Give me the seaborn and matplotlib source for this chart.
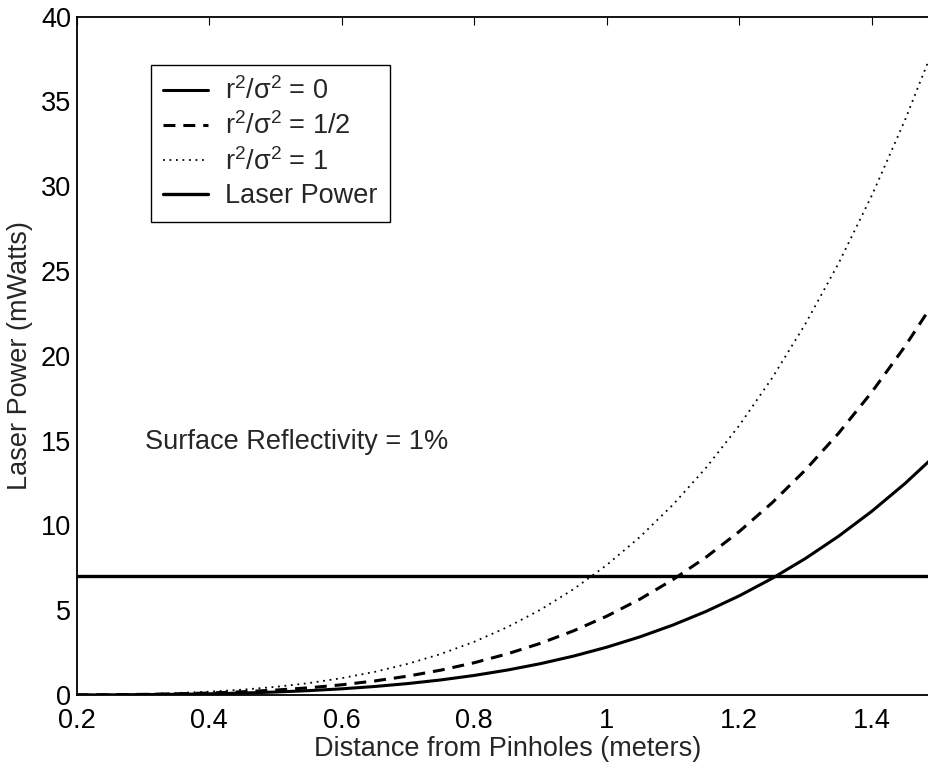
import numpy as np
import pandas as pd
import matplotlib
matplotlib.use("Agg")
import matplotlib.pyplot as plt
import seaborn as sns

# Distance from the pinholes (meters)
distance = [0.20, 0.25, 0.30, 0.35, 0.40, 0.45, 0.50, 0.55, 0.60, 0.65,
            0.70, 0.75, 0.80, 0.85, 0.90, 0.95, 1.00, 1.05, 1.10, 1.15,
            1.20, 1.25, 1.30, 1.35, 1.40, 1.45, 1.50]

# Required laser power (mWatts) for each r^2/sigma^2 setting
power_r0 = [0.0045, 0.011, 0.023, 0.042, 0.072, 0.116, 0.176, 0.258, 0.365, 0.503,
            0.677, 0.892, 1.155, 1.472, 1.850, 2.297, 2.820, 3.428, 4.129, 4.932,
            5.848, 6.885, 8.054, 9.367, 10.833, 12.466, 14.28]
power_r_half = [0.0074, 0.018, 0.038, 0.070, 0.119, 0.191, 0.291, 0.425, 0.603, 0.830,
                1.116, 1.471, 1.904, 2.427, 3.050, 3.787, 4.649, 5.651, 6.807, 8.131,
                9.640, 11.350, 13.278, 15.442, 17.860, 20.551, 23.53]
power_r1 = [0.0123, 0.030, 0.062, 0.115, 0.196, 0.314, 0.479, 0.701, 0.994, 1.368,
            1.841, 2.426, 3.140, 4.002, 5.030, 6.244, 7.666, 9.318, 11.224, 13.408,
            15.896, 18.716, 21.895, 25.462, 29.450, 33.888, 38.81]

# Available laser power (mWatts)
laser_power = 7.0

labels = [r"$\mathregular{r^2/\sigma^2}$ = 0",
          r"$\mathregular{r^2/\sigma^2}$ = 1/2",
          r"$\mathregular{r^2/\sigma^2}$ = 1",
          "Laser Power"]

x_ticks = [0.2, 0.4, 0.6, 0.8, 1.0, 1.2, 1.4]
x_tick_labels = ["0.2", "0.4", "0.6", "0.8", "1", "1.2", "1.4"]
y_ticks = [0, 5, 10, 15, 20, 25, 30, 35, 40]

FS = 19.5

sns.set_theme(style="white")
plt.rcParams["font.family"] = ["Liberation Sans", "DejaVu Sans"]
plt.rcParams["mathtext.fontset"] = "custom"
plt.rcParams["mathtext.rm"] = "Liberation Sans"
plt.rcParams["mathtext.it"] = "Liberation Sans"

fig = plt.figure(figsize=(9.29, 7.63), dpi=100)
ax = fig.add_axes([0.0826, 0.0891, 0.9271, 0.889])

df = pd.DataFrame({
    "distance": distance * 3,
    "power": power_r0 + power_r_half + power_r1,
    "case": [labels[0]] * len(distance) + [labels[1]] * len(distance) + [labels[2]] * len(distance),
})

sns.lineplot(data=df[df["case"] == labels[0]], x="distance", y="power", ax=ax,
             color="black", lw=2.2, linestyle="-", label=labels[0])
sns.lineplot(data=df[df["case"] == labels[1]], x="distance", y="power", ax=ax,
             color="black", lw=2.2, linestyle=(0, (3.9, 2.6)), label=labels[1])
sns.lineplot(data=df[df["case"] == labels[2]], x="distance", y="power", ax=ax,
             color="black", lw=1.3, linestyle=(0, (1.0, 2.6)), label=labels[2])
sns.lineplot(x=[distance[0], distance[-1]], y=[laser_power, laser_power], ax=ax,
             color="black", lw=2.4, linestyle="-", label=labels[3])

ax.set_xlim(0.2, 1.5)
ax.set_ylim(0, 40)
ax.set_xticks(x_ticks)
ax.set_xticklabels(x_tick_labels)
ax.set_yticks(y_ticks)

ax.tick_params(axis="both", which="both", direction="in", length=5.8, width=0.8,
               labelsize=FS, top=True, right=True, colors="black")
ax.tick_params(axis="x", pad=9)
ax.tick_params(axis="y", pad=4)
for s in ax.spines.values():
    s.set_color("black")
    s.set_linewidth(1.3)

ax.set_xlabel("Distance from Pinholes (meters)", fontsize=FS, labelpad=2)
ax.set_ylabel("Laser Power (mWatts)", fontsize=FS, labelpad=6)

ax.text(0.303, 14.9, "Surface Reflectivity = 1%", fontsize=FS,
        ha="left", va="center")

leg = ax.legend(loc="upper left", bbox_to_anchor=(0.0858, 0.9288),
                borderaxespad=0, fontsize=FS, frameon=True, fancybox=False,
                handlelength=1.67, handletextpad=0.62, labelspacing=0.28,
                borderpad=0.45)
leg.get_frame().set_edgecolor("black")
leg.get_frame().set_linewidth(1.0)
leg.get_frame().set_alpha(1)

fig.savefig("out.png", dpi=100)
